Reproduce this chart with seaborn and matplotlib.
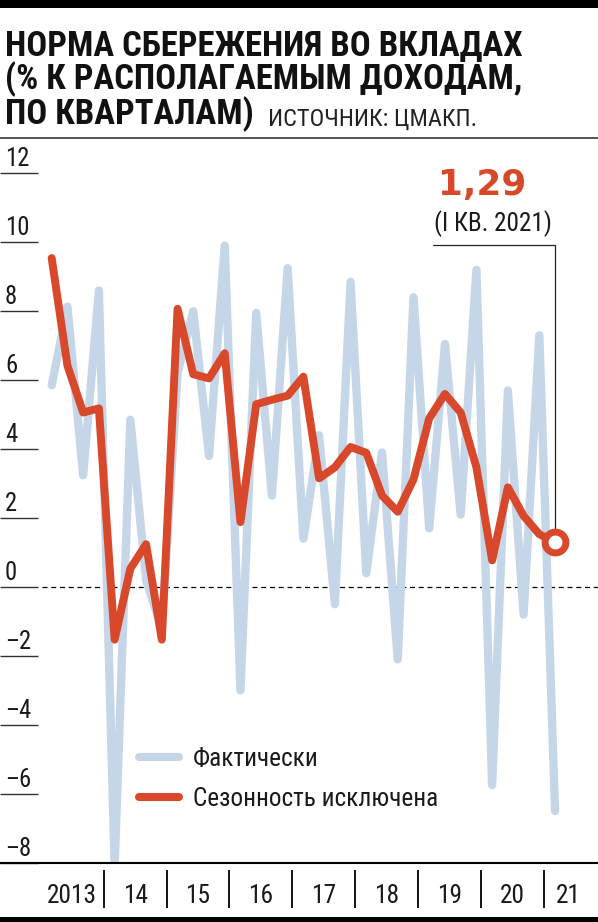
import os
import numpy as np
import pandas as pd
import matplotlib
matplotlib.use("Agg")
import matplotlib.pyplot as plt
import matplotlib.transforms as mtransforms
from matplotlib import font_manager as fm
from matplotlib.font_manager import FontProperties
from matplotlib.lines import Line2D
import seaborn as sns

# ---------------- data ----------------
quarters = [str(p) for p in pd.period_range("2013Q1", "2021Q1", freq="Q")]
actual = [5.85, 8.13, 3.24, 8.6, -8.1, 4.85, 0.2, -1.2, 6.2, 8.0, 3.8, 9.9,
          -3.0, 7.95, 2.65, 9.25, 1.4, 4.4, -0.5, 8.85, 0.4, 3.9, -2.1, 8.4,
          1.7, 7.05, 2.1, 9.2, -5.75, 5.7, -0.8, 7.3, -6.5]
seasonal = [9.54, 6.42, 5.06, 5.18, -1.53, 0.53, 1.24, -1.53, 8.07, 6.17, 6.05,
            6.78, 1.88, 5.3, 5.43, 5.55, 6.1, 3.15, 3.47, 4.06, 3.89, 2.65,
            2.18, 3.12, 4.89, 5.6, 5.06, 3.47, 0.77, 2.89, 2.06, 1.53, 1.29]
year_labels = ["2013", "14", "15", "16", "17", "18", "19", "20", "21"]
y_ticks = [12, 10, 8, 6, 4, 2, 0, -2, -4, -6, -8]
series_names = ["Фактически", "Сезонность исключена"]
title_lines = ["НОРМА СБЕРЕЖЕНИЯ ВО ВКЛАДАХ", "(% К РАСПОЛАГАЕМЫМ ДОХОДАМ,", "ПО КВАРТАЛАМ)"]
source_text = "ИСТОЧНИК: ЦМАКП."
last_label = "(I КВ. 2021)"

LB = "#c6d6e9"
RED = "#d8482a"
INK = "#1a1a1a"

# ---------------- fonts ----------------
def pick_font(bold):
    order = ["liberation sans narrow", "roboto condensed", "dejavu sans condensed",
             "open sans condensed", "noto sans condensed", "arial narrow"]
    best = None
    for f in fm.fontManager.ttflist:
        fn = os.path.basename(f.fname).lower()
        name = f.name.lower()
        if "italic" in fn or "oblique" in fn or f.style != "normal":
            continue
        if "[" in fn:
            continue
        w = f.weight
        if isinstance(w, str):
            isbold = w.lower() in ("bold", "semibold", "demibold", "heavy", "extra bold", "black")
        else:
            isbold = w >= 600
        if "bold" in fn:
            isbold = True
        if bold != isbold:
            continue
        if not bold and any(k in fn for k in ("light", "thin", "medium", "black", "semibold")):
            continue
        if bold and any(k in fn for k in ("semibold", "extrabold", "black")):
            continue
        narrow = ("narrow" in name or "condensed" in name or "narrow" in fn
                  or "condensed" in fn or str(f.stretch) in ("condensed", "semi-condensed"))
        if not narrow:
            continue
        key = name
        if "dejavu" in fn and "condensed" in fn:
            key = "dejavu sans condensed"
        rank = order.index(key) if key in order else len(order)
        if best is None or rank < best[0]:
            best = (rank, f.fname)
    if best is not None:
        return lambda size: FontProperties(fname=best[1], size=size)
    return lambda size: FontProperties(family=["Liberation Sans", "DejaVu Sans"],
                                       weight="bold" if bold else "normal", size=size)

sns.set_theme(style="white")
plt.rcParams["font.family"] = ["Liberation Sans", "DejaVu Sans"]

FB = pick_font(True)
FR = pick_font(False)

W, H = 598, 922
fig = plt.figure(figsize=(W / 100, H / 100), dpi=100)
fig.patch.set_facecolor("white")
renderer = fig.canvas.get_renderer()

def width_size(txt, width_px):
    bb = txt.get_window_extent(renderer)
    return txt.get_fontsize() * width_px / bb.width if bb.width > 0 else txt.get_fontsize()

def fit(txt, width_px):
    txt.set_fontsize(width_size(txt, width_px))
    return txt.get_fontsize()

def fit_mix(txt, width_px, cap_px):
    s_w = width_size(txt, width_px)
    s_h = cap_px / 0.71 * 0.72
    s = float(np.sqrt(s_w * s_h))
    txt.set_fontsize(s)
    return s

# ---------------- main axes ----------------
x0_px, dx_px = 51.7, 15.73
ax = fig.add_axes([0, (H - 862.7) / H, 1, (862.7 - 173.3) / H])
idx = np.arange(len(quarters))
df = pd.DataFrame({"i": idx, "q": quarters, "actual": actual, "seasonal": seasonal})

sns.lineplot(data=df, x="i", y="actual", ax=ax, color=LB, linewidth=6.0,
             solid_joinstyle="round", solid_capstyle="round", zorder=2)
sns.lineplot(data=df, x="i", y="seasonal", ax=ax, color=RED, linewidth=5.7,
             solid_joinstyle="round", solid_capstyle="round", zorder=3)

ax.set_xlim(-x0_px / dx_px, (W - x0_px) / dx_px)
ax.set_ylim(-8, 12)
ax.set_xlabel("")
ax.set_ylabel("")
for s in ["left", "right", "top"]:
    ax.spines[s].set_visible(False)
ax.spines["bottom"].set_color("black")
ax.spines["bottom"].set_linewidth(1.5)
ax.set_xticks([])
ax.set_yticks(y_ticks)
ax.tick_params(axis="y", direction="in", length=27.4, width=1.0, color="#333333",
               left=True, labelleft=False)
ax.set_facecolor("white")

# zero dashed line
ax.axhline(0, xmin=42 / W, xmax=1, color="black", lw=0.9, ls=(0, (4, 3)), zorder=1)

# ---------------- x labels strip ----------------
axx = fig.add_axes([0, (H - 914) / H, 1, 48 / H])
axx.set_xlim(ax.get_xlim())
axx.set_ylim(0, 1)
axx.axis("off")
year_starts = np.arange(0, len(quarters), 4)
seps = year_starts[1:] - 0.7
axx.vlines(seps, 6 / 48, 44 / 48, color="black", lw=1.3)
tx = axx.text(year_starts[0] + 1.28, 11.3 / 48, year_labels[0], ha="center",
              va="baseline", fontproperties=FR(20), color=INK)
axis_size = fit_mix(tx, 45, 20)
for k, lab in enumerate(year_labels[1:], start=1):
    st = year_starts[k]
    if k < len(year_labels) - 1:
        axx.text(st + 1.3, 11.3 / 48, lab, ha="center", va="baseline",
                 fontproperties=FR(axis_size), color=INK)
    else:
        axx.text(st + 0.05, 11.3 / 48, lab, ha="left", va="baseline",
                 fontproperties=FR(axis_size), color=INK)

# y tick labels above the tick lines
ytrans = mtransforms.offset_copy(
    mtransforms.blended_transform_factory(ax.transAxes, ax.transData),
    fig=fig, x=5, y=7, units="dots")
for v in y_ticks:
    lab = str(v).replace("-", "–")
    ax.text(0, v, lab, transform=ytrans, ha="left", va="baseline",
            fontproperties=FR(axis_size * 0.97), color=INK, clip_on=False)

# ---------------- end annotation ----------------
last_i, last_v = idx[-1], seasonal[-1]
bracket_y = (586.9 - 245) / 34.47
bracket_x0 = (433 - x0_px) / dx_px
ax.plot([bracket_x0, last_i, last_i], [bracket_y, bracket_y, last_v],
        color="#222222", lw=0.9, zorder=4, clip_on=False, solid_joinstyle="miter")
ax.plot([last_i], [last_v], marker="o", ms=15, mfc="white", mec=RED, mew=5,
        zorder=6, clip_on=False)
val_txt = f"{last_v:.2f}".replace(".", ",")
t_val = ax.text((482.5 - x0_px) / dx_px, (586.9 - 195) / 34.47, val_txt, ha="center",
                va="baseline", fontproperties=FontProperties(family="DejaVu Sans",
                weight="bold", size=25), color=RED, clip_on=False)
fit(t_val, 88)
t_q = ax.text((493 - x0_px) / dx_px, (586.9 - 230.5) / 34.47, last_label, ha="center",
              va="baseline", fontproperties=FR(axis_size), color=INK, clip_on=False)
fit_mix(t_q, 112, 19)

# ---------------- legend ----------------
handles = [Line2D([], [], color=LB, lw=5.8, solid_capstyle="round"),
           Line2D([], [], color=RED, lw=5.8, solid_capstyle="round")]
probe = fig.text(0, 0, series_names[1], fontproperties=FR(17))
leg_size = fit_mix(probe, 252, 17.5)
probe.remove()
leg = ax.legend(handles, series_names, prop=FR(leg_size), frameon=False,
                loc="upper left",
                bbox_to_anchor=(139 / W, 1 - (747 - 173.3) / (862.7 - 173.3)),
                bbox_transform=ax.transAxes, borderpad=0, borderaxespad=0,
                handlelength=40 / (leg_size * 100 / 72), handletextpad=0.55,
                labelspacing=0.62)
for t in leg.get_texts():
    t.set_color(INK)

# ---------------- title ----------------
title_texts = []
baselines = [54.6, 89.6, 124.6]
for line, b in zip(title_lines, baselines):
    t = fig.text(5 / W, 1 - b / H, line, ha="left", va="baseline",
                 fontproperties=FB(22), color="#111111")
    title_texts.append(t)
tsize = fit(title_texts[0], 517)
for t in title_texts[1:]:
    t.set_fontsize(tsize)
t_src = fig.text(268 / W, 1 - 126 / H, source_text, ha="left", va="baseline",
                 fontproperties=FR(17), color="#222222")
fit_mix(t_src, 207, 17.5)

# bars / rules
fig.add_artist(plt.Rectangle((0, 1 - 8 / H), 1, 8 / H, transform=fig.transFigure,
                             color="black", lw=0))
fig.add_artist(plt.Rectangle((0, 0), 1, 5 / H, transform=fig.transFigure,
                             color="black", lw=0))
fig.add_artist(Line2D([0, 1], [1 - 138 / H, 1 - 138 / H], transform=fig.transFigure,
                      color="#555555", lw=1.4))

fig.savefig("out.png", dpi=100, facecolor="white")
